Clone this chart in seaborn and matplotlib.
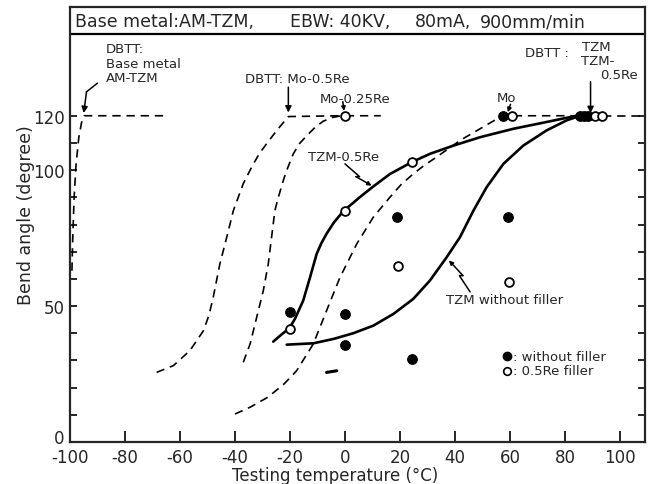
import matplotlib
matplotlib.use("Agg")
import matplotlib.pyplot as plt
import matplotlib.transforms as mtransforms
import seaborn as sns

# ---------------- data ----------------
filled_x = [-20, 0, 0, 19.0, 24.5, 59.4, 57.6, 85.5, 87.0, 88.3]
filled_y = [47.7, 46.9, 35.7, 82.9, 30.5, 82.8, 120, 120, 120, 120]
open_x = [-20, 0, 0, 19.4, 24.3, 59.6, 60.8, 90.9, 93.3]
open_y = [41.6, 84.9, 120, 64.9, 102.9, 58.8, 120, 120, 120]

base_x = [-99.3, -99.0, -98.5, -97.8, -96.8, -95.8, -94.9, -65.5]
base_y = [63, 75, 90, 102, 112, 117.5, 120, 120]

mo05_x = [-68.5, -62.4, -56.4, -51.5, -49.5, -47.9, -45.5, -43.0, -40.6, -37.0, -35.0, -33.3, -31.0, -28.5, -24.8, -20.6, -2]
mo05_y = [25.6, 28.1, 33.6, 40.9, 46.5, 53.3, 65.5, 75.3, 85.1, 95.0, 99.0, 102.3, 106.3, 109.7, 114.6, 119.7, 120]

mo025_x = [-37.0, -34.5, -32.1, -29.7, -27.9, -26.7, -25.5, -24.5, -23.6, -22.4, -21.2, -18.8, -16.5, -13.9, -10.8, -7.9, -4.5, -1.2, 13]
mo025_y = [29.3, 36.1, 45.9, 55.7, 65.5, 75.3, 85.1, 89.0, 92.2, 96.3, 99.9, 106.0, 109.8, 112.7, 115.8, 118.0, 119.4, 120, 120]

mo_x = [-40, -34.5, -28, -22.0, -17.6, -11.5, -6.7, -1.8, 4.3, 10.3, 16.4, 20.5, 24.8, 29.0, 33.3, 41.8, 49.1, 56.4, 58, 85]
mo_y = [10.3, 12.8, 16.5, 21.5, 26.2, 36.1, 48.3, 60.6, 72.9, 82.7, 90.1, 94.8, 98.6, 101.9, 104.8, 110.9, 115.2, 119.5, 120, 120]

tail_x = [94, 109]
tail_y = [120, 120]

tzm05_x = [-26.1, -23.6, -20.2, -18.2, -15.2, -12.7, -10.3, -8.5, -6.7, -4.0, -0.6, 5.45, 10.3, 16.4, 24.2, 30.9, 39.4, 49.1, 61.2, 73.3, 84.2]
tzm05_y = [36.9, 39.1, 41.9, 45.3, 52.0, 60.6, 69.2, 73.3, 76.6, 80.8, 84.9, 90.1, 94.0, 98.6, 102.9, 106.0, 109.0, 112.1, 115.2, 117.7, 120]

tzm_x = [-21.2, -11.5, -4.2, 3.0, 10.3, 17.6, 24.8, 30.9, 37.0, 41.8, 46.7, 51.5, 57.6, 64.8, 73.3, 80.6, 85.5]
tzm_y = [35.8, 36.3, 37.9, 40.0, 42.8, 47.1, 52.6, 59.4, 68.0, 75.3, 85.1, 93.7, 102.3, 109.0, 114.6, 118.3, 120]

stray_x = [-6.7, -3]
stray_y = [25.6, 26.2]

xtick_vals = [-100, -80, -60, -40, -20, 0, 20, 40, 60, 80, 100]
xtick_labels = ['-100', '-80', '-60', '-40', '-20', '0', '20', '40', '60', '80', '100']
ytick_vals = [0, 10, 20, 30, 40, 50, 60, 70, 80, 90, 100, 110, 120]
ytick_labels = ['0', '', '', '', '', '50', '', '', '', '', '100', '', '120']

title_parts = [(-98.2, "Base metal:AM-TZM,"), (-20, "EBW: 40KV,"), (25.5, "80mA,"), (49, "900mm/min")]

# ---------------- plot ----------------
sns.set_style("ticks")
plt.rcParams['font.family'] = ['DejaVu Sans']
plt.rcParams['axes.unicode_minus'] = False

fig = plt.figure(figsize=(6.56, 4.85), dpi=100)
ax = fig.add_axes([70/656, 42/485, 575/656, 435/485])

dash = (0, (5, 3.5))
dlw = 1.2
slw = 1.9

def line(x, y, ls='-', lw=slw):
    sns.lineplot(x=x, y=y, ax=ax, sort=False, estimator=None, color='black',
                 linewidth=lw, linestyle=ls, zorder=2)

line(base_x, base_y, dash, dlw)
line(mo05_x, mo05_y, dash, dlw)
line(mo025_x, mo025_y, dash, dlw)
line(mo_x, mo_y, dash, dlw)
line(tail_x, tail_y, dash, dlw)
line(tzm05_x, tzm05_y)
line(tzm_x, tzm_y)
line(stray_x, stray_y, '-', 2.2)

sns.scatterplot(x=filled_x, y=filled_y, ax=ax, color='black', s=48, edgecolor='black',
                linewidth=0.8, zorder=4)
sns.scatterplot(x=open_x, y=open_y, ax=ax, color='white', s=40, edgecolor='black',
                linewidth=1.3, zorder=5)

ax.set_xlim(-100, 109.1)
ax.set_ylim(0, 160)
ax.set_xticks(xtick_vals)
ax.set_xticklabels(xtick_labels)
ax.set_yticks(ytick_vals)
ax.set_yticklabels(ytick_labels)
ax.tick_params(axis='x', direction='in', length=8, width=1.4, labelsize=12, pad=4)
ax.tick_params(axis='y', direction='in', length=5, width=1.4, labelsize=12, pad=4,
               right=True)
for s in ax.spines.values():
    s.set_linewidth(1.6)
    s.set_visible(True)
ax.axhline(150, color='black', linewidth=1.6)

for xp, t in title_parts:
    ax.text(xp, 154.8, t, fontsize=12.5, va='center', ha='left')

ax.set_xlabel("Testing temperature (°C)", fontsize=12)
ax.set_ylabel("Bend angle (degree)", fontsize=12.5)
ax.xaxis.set_label_coords(0.461, -0.055)
ax.yaxis.set_label_coords(-0.06, 0.523)

fs = 9.5
arr = dict(arrowstyle='-|>', color='black', lw=1.1, mutation_scale=9,
           shrinkA=0, shrinkB=0)

# Base metal DBTT
ax.text(-87, 147, "DBTT:\nBase metal\nAM-TZM", fontsize=fs, va='top', ha='left', linespacing=1.15)
ax.plot([-90, -94], [132, 128.8], color='black', lw=1.1)
ax.annotate("", xy=(-95, 121), xytext=(-94, 128.8), arrowprops=arr)

# Mo-0.5Re
ax.text(-36.4, 133.6, "DBTT: Mo-0.5Re", fontsize=fs, va='center', ha='left')
ax.annotate("", xy=(-20.6, 121.2), xytext=(-20.6, 130.5), arrowprops=arr)

# Mo-0.25Re
ax.text(-9.3, 126.4, "Mo-0.25Re", fontsize=fs, va='center', ha='left')
ax.annotate("", xy=(-0.3, 121.8), xytext=(-0.8, 125.2), arrowprops=dict(arr, mutation_scale=6))

# TZM-0.5Re
ax.text(-13.3, 105.1, "TZM-0.5Re", fontsize=fs, va='center', ha='left')
ax.plot([0, 5.3, 4.0], [102.3, 97.6, 97.6], color='black', lw=1.1)
ax.annotate("", xy=(9.7, 94.3), xytext=(4.0, 97.6), arrowprops=dict(arr, mutation_scale=6))

# Mo
ax.text(58.8, 126.8, "Mo", fontsize=fs, va='center', ha='center')
ax.annotate("", xy=(59.2, 121.3), xytext=(60.2, 124.2), arrowprops=dict(arr, mutation_scale=6))

# TZM / TZM-0.5Re DBTT
ax.text(65.5, 143.4, "DBTT :", fontsize=fs, va='center', ha='left')
ax.text(86.2, 145.4, "TZM", fontsize=fs, va='center', ha='left')
ax.text(86.0, 140.5, "TZM-", fontsize=fs, va='center', ha='left')
ax.text(92.7, 135.2, "0.5Re", fontsize=fs, va='center', ha='left')
ax.annotate("", xy=(89.3, 121), xytext=(89.3, 132.5), arrowprops=arr)

# TZM without filler
ax.text(36.8, 52.4, "TZM without filler", fontsize=fs, va='center', ha='left')
ax.plot([45.5, 41.6, 42.9], [55.2, 61.2, 61.2], color='black', lw=1.1)
ax.annotate("", xy=(37.8, 66.8), xytext=(42.9, 61.2), arrowprops=dict(arr, mutation_scale=6))

# legend
ax.scatter([58.8], [31.5], s=36, color='black', zorder=5)
ax.scatter([58.8], [26.2], s=30, facecolor='white', edgecolor='black', linewidth=1.2, zorder=5)
ax.text(61.2, 31.5, ": without filler", fontsize=fs, va='center', ha='left')
ax.text(61.2, 26.2, ": 0.5Re filler", fontsize=fs, va='center', ha='left')

# lift the "0" y tick label a little so it clears "-100"
lab0 = ax.get_yticklabels()[0]
lab0.set_transform(lab0.get_transform() + mtransforms.ScaledTranslation(0, 4/72, fig.dpi_scale_trans))

fig.savefig("out.png", dpi=100)
